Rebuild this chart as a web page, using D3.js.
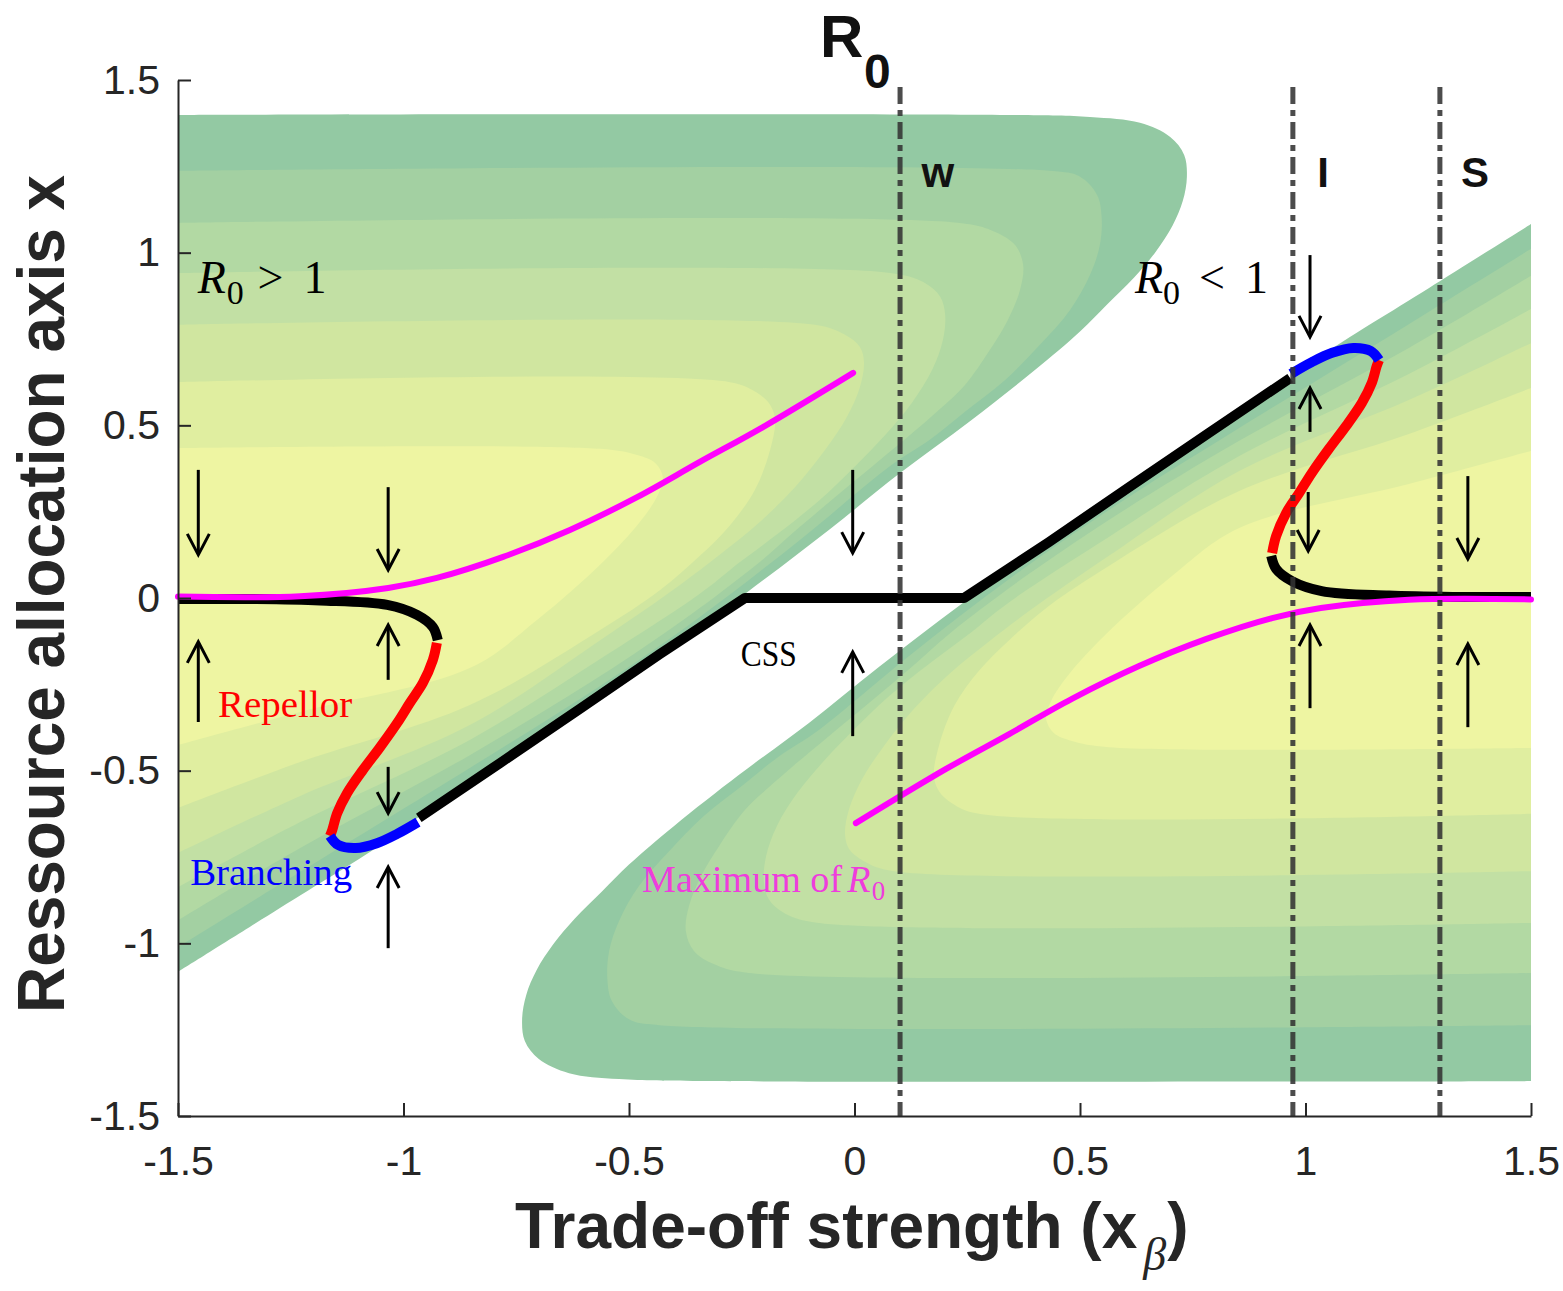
<!DOCTYPE html>
<html><head><meta charset="utf-8">
<script src="https://cdn.jsdelivr.net/npm/d3@7"></script>
<style>body{margin:0;background:#fff}</style>
</head><body>
<svg id="chart" width="1563" height="1291"></svg>
<script>
// ---------------- data ----------------
const xTicks = [-1.5, -1, -0.5, 0, 0.5, 1, 1.5];
const xTickLabels = ["-1.5", "-1", "-0.5", "0", "0.5", "1", "1.5"];
const yTicks = [-1.5, -1, -0.5, 0, 0.5, 1, 1.5];
const yTickLabels = ["-1.5", "-1", "-0.5", "0", "0.5", "1", "1.5"];

// R0 contour bands (outer -> inner)
const bandColors = ["#93c9a3", "#a3d0a2", "#b2d9a3", "#c2e0a4", "#d0e6a0", "#e0eea0", "#eef5a2"];

// upper-left lobe level curves (the lower-right lobe is its point reflection)
const level1 = [[-1.5,1.399],[0.323,1.399],[0.522,1.393],[0.633,1.376],[0.700,1.335],[0.731,1.283],[0.737,1.220],[0.728,1.150],[0.705,1.078],[0.668,1.003],[0.620,0.928],[0.560,0.850],[0.500,0.772],[0.400,0.660],[0.256,0.512],[0.101,0.362],[-0.054,0.200],[-0.238,0.017],[-0.454,-0.185],[-0.675,-0.376],[-0.853,-0.533],[-0.963,-0.631],[-1.034,-0.701],[-1.274,-0.898],[-1.5,-1.083]];
const level2 = [[-1.5,1.237],[0.433,1.237],[0.500,1.220],[0.538,1.167],[0.548,1.103],[0.544,1.022],[0.522,0.935],[0.478,0.834],[0.411,0.733],[0.334,0.631],[0.245,0.539],[0.167,0.458],[0.079,0.382],[-0.121,0.168],[-0.343,-0.055],[-0.564,-0.255],[-0.853,-0.492],[-1.229,-0.793],[-1.5,-1.011]];
const level3 = [[-1.5,1.086],[0.234,1.086],[0.312,1.060],[0.356,1.022],[0.374,0.964],[0.367,0.892],[0.340,0.805],[0.300,0.718],[0.245,0.617],[0.190,0.548],[0.134,0.484],[0.057,0.400],[-0.032,0.304],[-0.121,0.206],[-0.210,0.104],[-0.299,0.014],[-0.387,-0.070],[-0.564,-0.226],[-0.853,-0.455],[-1.229,-0.724],[-1.5,-0.933]];
const level4 = [[-1.5,0.941],[0.079,0.941],[0.156,0.912],[0.190,0.872],[0.201,0.820],[0.196,0.747],[0.172,0.660],[0.127,0.565],[0.068,0.472],[-0.003,0.376],[-0.077,0.284],[-0.165,0.191],[-0.254,0.104],[-0.343,0.012],[-0.564,-0.177],[-0.853,-0.411],[-1.229,-0.649],[-1.5,-0.837]];
const level5 = [[-1.5,0.791],[-0.088,0.791],[-0.021,0.762],[0.012,0.727],[0.021,0.683],[0.012,0.611],[-0.017,0.524],[-0.065,0.429],[-0.132,0.321],[-0.210,0.220],[-0.299,0.125],[-0.387,0.038],[-0.564,-0.122],[-0.853,-0.368],[-1.229,-0.573],[-1.5,-0.738]];
const level6 = [[-1.5,0.625],[-0.276,0.625],[-0.216,0.594],[-0.187,0.559],[-0.176,0.515],[-0.187,0.429],[-0.221,0.313],[-0.276,0.211],[-0.343,0.122],[-0.431,0.023],[-0.564,-0.093],[-0.853,-0.310],[-1.229,-0.475],[-1.5,-0.608]];
const level7 = [[-1.5,0.434],[-0.564,0.432],[-0.482,0.414],[-0.442,0.391],[-0.425,0.350],[-0.436,0.298],[-0.476,0.220],[-0.558,0.104],[-0.704,-0.064],[-0.853,-0.203],[-1.229,-0.330],[-1.5,-0.426]];
const leftLobe = [level1, level2, level3, level4, level5, level6, level7];

// singular strategy curve, left part (right part is its point reflection)
const cssTail = [[-1.5,-0.003],[-1.34,-0.003],[-1.185,-0.007],[-1.036,-0.020],[-0.970,-0.049],[-0.935,-0.084],[-0.924,-0.122]];
const repellor = [[-0.926,-0.130],[-0.935,-0.180],[-0.957,-0.246],[-0.986,-0.304],[-1.014,-0.362],[-1.052,-0.432],[-1.090,-0.498],[-1.125,-0.565],[-1.147,-0.623],[-1.158,-0.672],[-1.163,-0.689]];
const branching = [[-1.163,-0.689],[-1.145,-0.715],[-1.106,-0.724],[-1.059,-0.710],[-1.014,-0.683],[-0.968,-0.649]];
const cssMain = [[-0.966,-0.637],[-0.786,-0.478],[-0.609,-0.321],[-0.431,-0.162],[-0.243,0],[0.243,0],[0.431,0.162],[0.609,0.321],[0.786,0.478],[0.966,0.637]];
// maximum of R0, left part
const maxR0 = [[-1.5,0.004],[-1.229,0.005],[-1.034,0.029],[-0.926,0.058],[-0.779,0.119],[-0.631,0.197],[-0.482,0.292],[-0.343,0.394],[-0.203,0.495],[-0.003,0.652]];

// dashed reference lines
const vLineX = [0.101, 0.972, 1.298];
const vLineLabels = ["w", "I", "S"];
const vLineLabelX = [0.185, 1.039, 1.376];

// selection arrows: x, tail y, tip y
const arrows = [
  {x:-1.455, from:0.371, to:0.125}, {x:-1.034, from:0.321, to:0.081},
  {x:-0.004, from:0.371, to:0.130}, {x:1.010, from:0.993, to:0.756},
  {x:1.006, from:0.307, to:0.136}, {x:1.360, from:0.353, to:0.113},
  {x:-1.034, from:-0.489, to:-0.623},
  {x:-1.455, from:-0.359, to:-0.127}, {x:-1.034, from:-0.237, to:-0.078},
  {x:-1.034, from:-1.014, to:-0.779}, {x:-0.004, from:-0.400, to:-0.156},
  {x:1.010, from:0.481, to:0.608}, {x:1.010, from:-0.319, to:-0.078},
  {x:1.360, from:-0.374, to:-0.133}
];

// ---------------- drawing ----------------
const svg = d3.select("#chart");
const x = d3.scaleLinear().domain([-1.5, 1.5]).range([178, 1531]);
const y = d3.scaleLinear().domain([-1.5, 1.5]).range([1116, 80]);
const reflect = pts => pts.map(([a, b]) => [-a, -b]);

svg.append("defs").append("clipPath").attr("id", "plot")
  .append("rect").attr("x", x(-1.5)).attr("y", y(1.5))
  .attr("width", x(1.5) - x(-1.5)).attr("height", y(-1.5) - y(1.5));

const smooth = d3.line().x(d => x(d[0])).y(d => y(d[1])).curve(d3.curveCatmullRom.alpha(0.5));
const straight = d3.line().x(d => x(d[0])).y(d => y(d[1]));

const gC = svg.append("g").attr("clip-path", "url(#plot)");
[leftLobe, leftLobe.map(reflect)].forEach(lobe => {
  lobe.forEach((pts, k) => {
    gC.append("path").attr("d", smooth(pts) + "Z").attr("fill", bandColors[k]);
  });
});

// curves
const gL = svg.append("g");
function curve(pts, color, w, gen, cap) {
  gL.append("path").attr("d", (gen || smooth)(pts)).attr("fill", "none")
    .attr("stroke", color).attr("stroke-width", w).attr("stroke-linecap", cap || "butt")
    .attr("stroke-linejoin", "round");
}
curve(cssTail, "#000", 10);
curve(reflect(cssTail), "#000", 10);
curve(cssMain, "#000", 10, straight);
curve(repellor, "#ff0000", 10);
curve(reflect(repellor), "#ff0000", 10);
curve(branching, "#0000ff", 10);
curve(reflect(branching), "#0000ff", 10);
curve(maxR0, "#ff00ff", 6, smooth, "round");
curve(reflect(maxR0), "#ff00ff", 6, smooth, "round");

// dashed lines
const gV = svg.append("g");
vLineX.forEach((v, i) => {
  gV.append("line").attr("x1", x(v)).attr("x2", x(v)).attr("y1", y(1.48)).attr("y2", y(-1.5))
    .attr("stroke", "#333").attr("stroke-opacity", 0.88).attr("stroke-width", 5)
    .attr("stroke-dasharray", "17,6,6,6");
  gV.append("text").attr("x", x(vLineLabelX[i])).attr("y", y(1.19))
    .attr("text-anchor", "middle").attr("font-family", "Liberation Sans, Arial, sans-serif")
    .attr("font-weight", "bold").attr("font-size", 42).attr("fill", "#111").text(vLineLabels[i]);
});

// arrows
const gA = svg.append("g").attr("stroke", "#000").attr("stroke-width", 3).attr("fill", "none");
arrows.forEach(a => {
  const px = x(a.x), y0 = y(a.from), y1 = y(a.to);
  const dir = Math.sign(y1 - y0);
  gA.append("line").attr("x1", px).attr("x2", px).attr("y1", y0).attr("y2", y1 - dir * 1);
  gA.append("path").attr("d", `M${px - 11},${y1 - dir * 21}L${px},${y1}L${px + 11},${y1 - dir * 21}`)
    .attr("stroke-linejoin", "miter");
});

// annotations
const serif = "Liberation Serif, Times New Roman, serif";
function txt(xx, yy, s, opt) {
  const t = svg.append("text").attr("x", x(xx)).attr("y", y(yy)).text(s)
    .attr("font-family", opt.family || serif).attr("font-size", opt.size)
    .attr("fill", opt.fill || "#000");
  if (opt.italic) t.attr("font-style", "italic");
  if (opt.bold) t.attr("font-weight", "bold");
  if (opt.len) t.attr("textLength", opt.len).attr("lengthAdjust", "spacingAndGlyphs");
  if (opt.anchor) t.attr("text-anchor", opt.anchor);
  return t;
}
// R0 > 1
txt(-1.456, 0.883, "R", {size: 46, italic: true});
txt(-1.392, 0.852, "0", {size: 34});
txt(-1.324, 0.883, ">", {size: 46});
txt(-1.222, 0.883, "1", {size: 46});
// R0 < 1
txt(0.622, 0.883, "R", {size: 46, italic: true});
txt(0.684, 0.852, "0", {size: 34});
txt(0.764, 0.883, "<", {size: 46});
txt(0.866, 0.883, "1", {size: 46});
txt(-1.411, -0.345, "Repellor", {size: 38, fill: "#ff0000", len: 134});
txt(-1.473, -0.831, "Branching", {size: 38, fill: "#0000ff", len: 162});
txt(-0.252, -0.197, "CSS", {size: 36, len: 56});
txt(-0.471, -0.851, "Maximum of ", {size: 38, fill: "#ee3ddc", len: 200});
txt(-0.016, -0.851, "R", {size: 38, fill: "#ee3ddc", italic: true});
txt(0.038, -0.874, "0", {size: 27, fill: "#ee3ddc"});

// axes
const sans = "Liberation Sans, Arial, sans-serif";
const gx = svg.append("g").attr("transform", `translate(0,${y(-1.5)})`)
  .call(d3.axisBottom(x).tickValues(xTicks).tickFormat((d, i) => xTickLabels[i])
    .tickSizeInner(-13).tickSizeOuter(0).tickPadding(30));
const gy = svg.append("g").attr("transform", `translate(${x(-1.5)},0)`)
  .call(d3.axisLeft(y).tickValues(yTicks).tickFormat((d, i) => yTickLabels[i])
    .tickSizeInner(-13).tickSizeOuter(0).tickPadding(18));
[gx, gy].forEach(g => {
  g.attr("color", "#262626");
  g.select(".domain").attr("stroke-width", 2);
  g.selectAll(".tick line").attr("stroke-width", 2);
  g.selectAll("text").attr("font-family", sans).attr("font-size", 41).attr("fill", "#262626");
});

// axis titles
const xt = svg.append("text").attr("x", 515).attr("y", 1248)
  .attr("font-family", sans).attr("font-weight", "bold").attr("font-size", 64).attr("fill", "#262626");
xt.append("tspan").text("Trade-off strength (x");
xt.append("tspan").text("β").attr("font-family", serif).attr("font-style", "italic")
  .attr("font-weight", "normal").attr("font-size", 46).attr("dx", 6).attr("dy", 22);
xt.append("tspan").text(")").attr("dx", 1).attr("dy", -22);
svg.append("text").attr("transform", "translate(64,594) rotate(-90)").attr("text-anchor", "middle")
  .text("Ressource allocation axis x").attr("font-family", sans).attr("font-weight", "bold")
  .attr("font-size", 66).attr("fill", "#262626").attr("textLength", 838).attr("lengthAdjust", "spacingAndGlyphs");
// title R0
svg.append("text").attr("x", 820).attr("y", 57).text("R")
  .attr("font-family", sans).attr("font-weight", "bold").attr("font-size", 60).attr("fill", "#111");
svg.append("text").attr("x", 864).attr("y", 88).text("0")
  .attr("font-family", sans).attr("font-weight", "bold").attr("font-size", 48).attr("fill", "#111");
</script>
</body></html>
